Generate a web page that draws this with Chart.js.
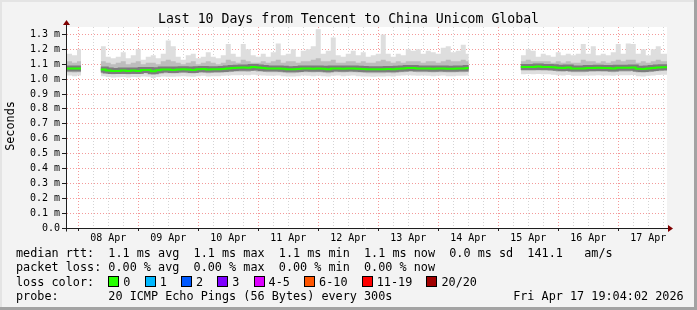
<!DOCTYPE html>
<html>
<head>
<meta charset="utf-8">
<script src="https://cdn.jsdelivr.net/npm/chart.js@4.4.1/dist/chart.umd.min.js"></script>
<style>
  body { margin: 0; background: #f3f3f3; }
  #wrap { position: relative; width: 697px; height: 310px; background: #f3f3f3; overflow: hidden; font-family: "DejaVu Sans Mono", monospace; color: #000; }
  #wrap canvas { position: absolute; left: 0; top: 0; }
  .edge { position: absolute; left: 0; top: 0; width: 697px; height: 310px; box-sizing: border-box; pointer-events: none;
          box-shadow: inset -3px -3px 0 #a3a3a3, inset 2px 2px 0 #e4e4e4; }
  .title { position: absolute; left: 0; top: 11px; width: 697px; text-align: center; font-size: 13.2px; line-height: 16px; white-space: pre; }
  .ytitle { position: absolute; left: -20px; top: 119px; width: 60px; height: 14px; text-align: center; font-size: 11.8px; line-height: 14px; transform: rotate(-90deg); }
  .mark { position: absolute; left: 657px; top: 54px; width: 120px; height: 10px; text-align: center; font-size: 8.3px; line-height: 10px; color: #b4b4b4; transform: rotate(90deg); white-space: pre; }
  .legend { position: absolute; left: 16px; top: 246px; font-size: 11.8px; line-height: 14.3px; white-space: pre; margin: 0; font-family: inherit; }
  .box { display: inline-block; width: 9px; height: 9px; border: 1px solid #000; margin-right: 4px; vertical-align: -1px; }
</style>
</head>
<body>
<div id="wrap">
  <canvas id="smoke" width="697" height="310"></canvas>
  <div class="title">Last 10 Days from Tencent to China Unicom Global</div>
  <div class="ytitle">Seconds</div>
  <div class="mark">RRDTOOL / TOBI OETIKER</div>
  <pre class="legend" id="legend"></pre>
  <div class="edge"></div>
</div>
<script>
// hours since 07 Apr 00:00, one row every 2 h, null = no data
const hours = [
  19.5, 21.5, 23.5, 25.1,
  29,
  33, 35, 37, 39, 41, 43, 45, 47, 49, 51, 53, 55, 57, 59, 61, 63, 65, 67, 69, 71,
  73, 75, 77, 79, 81, 83, 85, 87, 89, 91, 93, 95, 97, 99, 101, 103, 105, 107, 109, 111,
  113, 115, 117, 119, 121, 123, 125, 127, 129, 131, 133, 135, 137, 139, 141, 143, 145, 147, 149, 151,
  153, 155, 157, 159, 161, 163, 165, 167, 169, 171, 173, 175, 177, 179, 180.2,
  190,
  201, 203, 205, 207, 209, 211, 213, 215, 217, 219, 221, 223, 225, 227, 229,
  231, 233, 235, 237, 239, 241, 243, 245, 247, 249, 251, 253, 255, 257, 259.5
];

// values in ms
const medianRtt = [
  1.071, 1.071, 1.071, 1.071,
  null,
  1.064, 1.058, 1.055, 1.055, 1.058, 1.055, 1.058, 1.055, 1.062, 1.062,
  1.052, 1.060, 1.064, 1.064, 1.062, 1.064, 1.066, 1.064, 1.062, 1.066,
  1.068, 1.064, 1.066, 1.066, 1.068, 1.072, 1.074, 1.076, 1.078, 1.076,
  1.082, 1.078, 1.074, 1.072, 1.072, 1.072, 1.070, 1.066, 1.066, 1.068,
  1.072, 1.072, 1.070, 1.072, 1.070, 1.066, 1.072, 1.072, 1.070, 1.072,
  1.072, 1.070, 1.068, 1.066, 1.066, 1.066, 1.066, 1.068, 1.066, 1.070,
  1.072, 1.074, 1.074, 1.072, 1.072, 1.072, 1.070, 1.072, 1.072, 1.070,
  1.070, 1.072, 1.072, 1.074, 1.074,
  null,
  1.082, 1.082, 1.082, 1.084, 1.082, 1.082, 1.080, 1.076, 1.074, 1.078,
  1.072, 1.072, 1.072, 1.074, 1.074, 1.076, 1.074, 1.074, 1.072, 1.076,
  1.076, 1.076, 1.078, 1.070, 1.068, 1.072, 1.074, 1.078, 1.080, 1.080
];

const maxRtt = [
  1.17, 1.16, 1.20, 1.20,
  null,
  1.22, 1.15, 1.14, 1.15, 1.18, 1.14, 1.16, 1.20, 1.13, 1.15,
  1.16, 1.14, 1.17, 1.26, 1.22, 1.15, 1.13, 1.16, 1.17, 1.14,
  1.15, 1.18, 1.15, 1.14, 1.16, 1.235, 1.17, 1.15, 1.235, 1.20,
  1.16, 1.15, 1.17, 1.15, 1.18, 1.24, 1.16, 1.17, 1.20, 1.15,
  1.19, 1.20, 1.22, 1.335, 1.17, 1.19, 1.28, 1.16, 1.15, 1.17,
  1.19, 1.16, 1.18, 1.15, 1.16, 1.17, 1.30, 1.17, 1.15, 1.17,
  1.16, 1.20, 1.19, 1.20, 1.17, 1.19, 1.18, 1.17, 1.21, 1.22,
  1.18, 1.19, 1.23, 1.17, 1.17,
  null,
  1.16, 1.20, 1.19, 1.15, 1.17, 1.16, 1.15, 1.18, 1.16, 1.17,
  1.16, 1.17, 1.235, 1.17, 1.22, 1.16, 1.17, 1.16, 1.18, 1.235,
  1.17, 1.24, 1.235, 1.17, 1.20, 1.16, 1.20, 1.22, 1.17, 1.17
];

const upperRtt = [
  1.12, 1.11, 1.12, 1.12,
  null,
  1.12, 1.11, 1.10, 1.11, 1.12, 1.10, 1.11, 1.12, 1.10, 1.11,
  1.11, 1.10, 1.12, 1.13, 1.12, 1.11, 1.10, 1.11, 1.12, 1.10,
  1.11, 1.12, 1.11, 1.10, 1.11, 1.13, 1.12, 1.11, 1.13, 1.12,
  1.11, 1.11, 1.12, 1.11, 1.12, 1.13, 1.11, 1.12, 1.12, 1.11,
  1.12, 1.12, 1.13, 1.14, 1.12, 1.12, 1.13, 1.11, 1.11, 1.12,
  1.12, 1.11, 1.12, 1.11, 1.11, 1.12, 1.13, 1.12, 1.11, 1.12,
  1.11, 1.12, 1.12, 1.12, 1.11, 1.12, 1.12, 1.11, 1.12, 1.13,
  1.12, 1.12, 1.13, 1.12, 1.12,
  null,
  1.12, 1.13, 1.12, 1.12, 1.12, 1.12, 1.11, 1.12, 1.11, 1.12,
  1.11, 1.11, 1.13, 1.12, 1.12, 1.11, 1.12, 1.11, 1.12, 1.13,
  1.12, 1.13, 1.13, 1.11, 1.12, 1.11, 1.12, 1.13, 1.12, 1.12
];

const lowerRtt = [
  1.046, 1.044, 1.046, 1.046,
  null,
  1.040, 1.035, 1.032, 1.034, 1.036, 1.033, 1.036, 1.034, 1.040, 1.038,
  1.030, 1.036, 1.040, 1.040, 1.038, 1.040, 1.042, 1.040, 1.038, 1.042,
  1.044, 1.040, 1.042, 1.042, 1.044, 1.046, 1.048, 1.050, 1.050, 1.048,
  1.054, 1.050, 1.048, 1.046, 1.046, 1.046, 1.044, 1.040, 1.040, 1.042,
  1.046, 1.046, 1.044, 1.046, 1.044, 1.040, 1.046, 1.046, 1.044, 1.046,
  1.046, 1.044, 1.042, 1.040, 1.040, 1.040, 1.040, 1.042, 1.040, 1.044,
  1.046, 1.048, 1.048, 1.046, 1.046, 1.046, 1.044, 1.046, 1.046, 1.044,
  1.044, 1.046, 1.046, 1.048, 1.048,
  null,
  1.056, 1.056, 1.056, 1.058, 1.056, 1.056, 1.054, 1.050, 1.048, 1.052,
  1.046, 1.046, 1.046, 1.048, 1.048, 1.050, 1.048, 1.048, 1.046, 1.050,
  1.050, 1.050, 1.052, 1.044, 1.042, 1.046, 1.048, 1.052, 1.054, 1.054
];

const minRtt = [
  1.024, 1.020, 1.024, 1.024,
  null,
  1.020, 1.015, 1.010, 1.012, 1.015, 1.010, 1.014, 1.012, 1.018, 1.016,
  1.008, 1.014, 1.018, 1.016, 1.016, 1.018, 1.020, 1.018, 1.016, 1.020,
  1.022, 1.018, 1.020, 1.020, 1.022, 1.024, 1.026, 1.026, 1.028, 1.026,
  1.030, 1.026, 1.024, 1.022, 1.022, 1.024, 1.020, 1.018, 1.018, 1.020,
  1.024, 1.022, 1.020, 1.022, 1.020, 1.018, 1.022, 1.024, 1.020, 1.022,
  1.024, 1.020, 1.018, 1.018, 1.016, 1.018, 1.018, 1.020, 1.018, 1.022,
  1.024, 1.026, 1.024, 1.022, 1.024, 1.022, 1.020, 1.022, 1.024, 1.020,
  1.020, 1.022, 1.022, 1.024, 1.024,
  null,
  1.032, 1.034, 1.032, 1.034, 1.032, 1.032, 1.030, 1.026, 1.024, 1.028,
  1.022, 1.022, 1.022, 1.024, 1.024, 1.026, 1.024, 1.024, 1.022, 1.026,
  1.026, 1.026, 1.028, 1.020, 1.018, 1.022, 1.024, 1.028, 1.030, 1.030
];

const dayNames = ["07 Apr", "08 Apr", "09 Apr", "10 Apr", "11 Apr", "12 Apr", "13 Apr", "14 Apr", "15 Apr", "16 Apr", "17 Apr"];
const yTicks = [0, 0.1, 0.2, 0.3, 0.4, 0.5, 0.6, 0.7, 0.8, 0.9, 1.0, 1.1, 1.2, 1.3];

const lossLabels = ["0", "1", "2", "3", "4-5", "6-10", "11-19", "20/20"];
const lossColors = ["#26ff00", "#00b8ff", "#0059ff", "#7e00ff", "#dd00ff", "#ff5500", "#ff0000", "#a10000"];

const statLines = [
  "median rtt:  1.1 ms avg  1.1 ms max  1.1 ms min  1.1 ms now  0.0 ms sd  141.1   am/s",
  "packet loss: 0.00 % avg  0.00 % max  0.00 % min  0.00 % now",
  "loss color:  ",
  "probe:       20 ICMP Echo Pings (56 Bytes) every 300s                 Fri Apr 17 19:04:02 2026"
];

// legend text
const legend = document.getElementById("legend");
legend.textContent = statLines[0] + "\n" + statLines[1] + "\n" + statLines[2];
lossLabels.forEach((lab, i) => {
  const b = document.createElement("span");
  b.className = "box";
  b.style.background = lossColors[i];
  legend.appendChild(b);
  legend.appendChild(document.createTextNode(lab + (i < lossLabels.length - 1 ? "  " : "")));
});
legend.appendChild(document.createTextNode("\n" + statLines[3]));

const pts = (arr) => hours.map((h, i) => ({ x: h, y: arr[i] }));

const plotFrame = {
  id: "plotFrame",
  beforeDraw(chart) {
    const { ctx, chartArea: a } = chart;
    ctx.save();
    ctx.fillStyle = "#fff";
    ctx.fillRect(a.left, a.top, a.right - a.left, a.bottom - a.top);
    ctx.restore();
  },
  afterDraw(chart) {
    const { ctx, chartArea: a } = chart;
    const x0 = Math.round(a.left) - 0.5;
    const y0 = Math.round(a.bottom) + 0.5;
    ctx.save();
    ctx.strokeStyle = "#1e1e1e";
    ctx.lineWidth = 1;
    ctx.beginPath();
    ctx.moveTo(x0, y0 + 3);
    ctx.lineTo(x0, a.top - 3);
    ctx.moveTo(x0 - 4, y0);
    ctx.lineTo(a.right + 2, y0);
    ctx.stroke();
    ctx.fillStyle = "#7f0000";
    ctx.beginPath();
    ctx.moveTo(x0, a.top - 7);
    ctx.lineTo(x0 - 3.5, a.top - 2);
    ctx.lineTo(x0 + 3.5, a.top - 2);
    ctx.closePath();
    ctx.fill();
    ctx.beginPath();
    ctx.moveTo(a.right + 6, y0);
    ctx.lineTo(a.right + 1, y0 - 3.5);
    ctx.lineTo(a.right + 1, y0 + 3.5);
    ctx.closePath();
    ctx.fill();
    ctx.restore();
  }
};

const tickFont = { family: "DejaVu Sans Mono", size: 10 };

new Chart(document.getElementById("smoke").getContext("2d"), {
  type: "line",
  data: {
    datasets: [
      { label: "median", data: pts(medianRtt), borderColor: "#26ff00", borderWidth: 2, stepped: true, fill: false },
      { label: "median shade", data: pts(medianRtt), borderColor: "rgba(60,60,60,0.5)", borderWidth: 6, stepped: true, fill: false },
      { label: "upper", data: pts(upperRtt), borderWidth: 0, borderColor: "transparent", stepped: true, fill: 3, backgroundColor: "#bdbdbd" },
      { label: "lower", data: pts(lowerRtt), borderWidth: 0, borderColor: "transparent", stepped: true, fill: false },
      { label: "max", data: pts(maxRtt), borderWidth: 0, borderColor: "transparent", stepped: true, fill: 5, backgroundColor: "#dedede" },
      { label: "min", data: pts(minRtt), borderWidth: 0, borderColor: "transparent", stepped: true, fill: false }
    ]
  },
  options: {
    responsive: false,
    animation: false,
    spanGaps: false,
    elements: { point: { radius: 0 } },
    layout: { padding: { top: 27, right: 30, left: 0, bottom: 0 } },
    plugins: { legend: { display: false }, tooltip: { enabled: false } },
    scales: {
      x: {
        type: "linear",
        min: 19.5,
        max: 259.5,
        afterFit: (s) => { s.height = 82; },
        afterBuildTicks: (s) => {
          const t = [];
          for (let h = 24; h < 259.5; h += 6) t.push({ value: h });
          s.ticks = t;
        },
        ticks: {
          autoSkip: false,
          maxRotation: 0,
          padding: 1,
          color: "#000",
          font: tickFont,
          callback: (v) => (v % 24 === 12 ? dayNames[Math.floor(v / 24)] : "")
        },
        grid: {
          color: (c) => (c.tick && c.tick.value % 24 === 0 ? "#f49a9a" : "#d4d4d4"),
          tickColor: (c) => (c.tick && c.tick.value % 24 === 0 ? "#1e1e1e" : "transparent"),
          tickLength: 3,
          lineWidth: 1
        },
        border: { display: false, dash: [1, 2] }
      },
      y: {
        min: 0,
        max: 1.35,
        afterFit: (s) => { s.width = 67; },
        afterBuildTicks: (s) => { s.ticks = yTicks.map((v) => ({ value: v })); },
        ticks: {
          padding: 2,
          color: "#000",
          font: tickFont,
          callback: (v) => (v === 0 ? "0.0" : v.toFixed(1) + " m")
        },
        grid: {
          color: (c) => (c.tick && c.tick.value === 0 ? "transparent" : "#f49a9a"),
          tickColor: "#1e1e1e",
          tickLength: 5,
          lineWidth: 1
        },
        border: { display: false, dash: [1, 2] }
      }
    }
  },
  plugins: [plotFrame]
});
</script>
</body>
</html>
